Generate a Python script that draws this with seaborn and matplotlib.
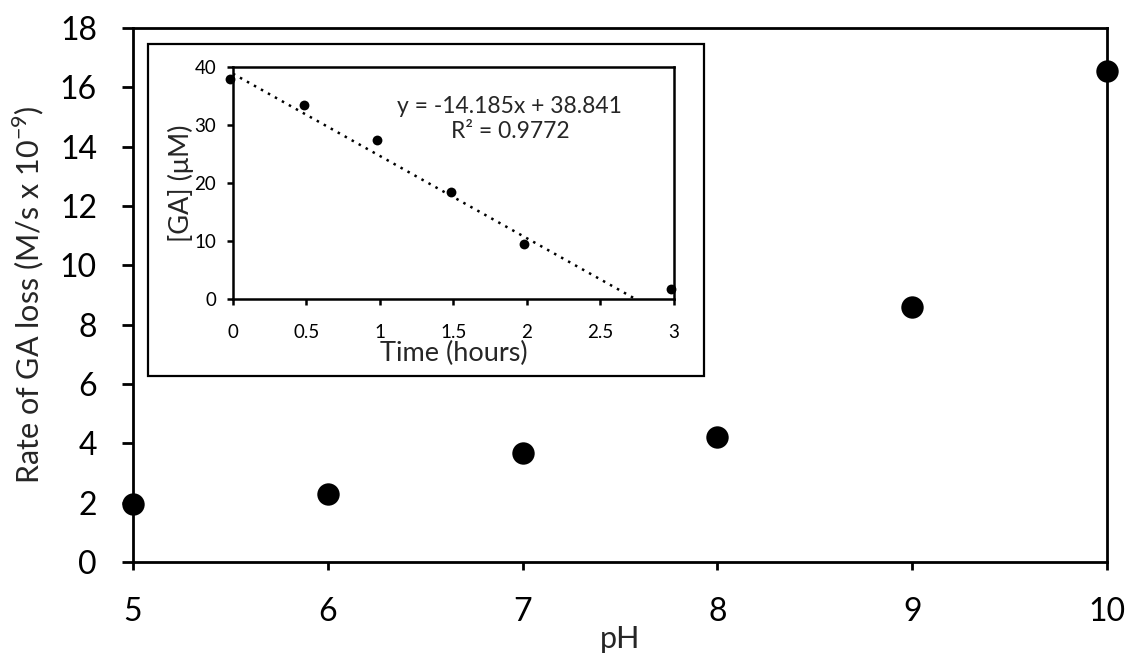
import matplotlib
matplotlib.use("Agg")
import matplotlib.pyplot as plt
import matplotlib.patches as mpatches
import matplotlib.ticker as mticker
import numpy as np
import pandas as pd
import seaborn as sns

# ---- data ----
ph = [5, 6, 7, 8, 9, 10]
rate = [1.95, 2.28, 3.68, 4.22, 8.6, 16.55]

time_h = [-0.02, 0.48, 0.98, 1.48, 1.98, 2.98]
ga_um = [38.0, 33.5, 27.4, 18.5, 9.5, 1.8]

fit_slope = -14.185
fit_intercept = 38.841
fit_r2 = 0.9772

main_xticks = [5, 6, 7, 8, 9, 10]
main_yticks = [0, 2, 4, 6, 8, 10, 12, 14, 16, 18]
inset_xticks = [0, 0.5, 1, 1.5, 2, 2.5, 3]
inset_yticks = [0, 10, 20, 30, 40]

sns.set_style("ticks")
plt.rcParams['font.family'] = ['Lato', 'DejaVu Sans']

fig = plt.figure(figsize=(11.31, 6.55), dpi=100)

# ---- main axes ----
ax = fig.add_axes([0.1176, 0.142, 0.8612, 0.815])
df_main = pd.DataFrame({"pH": ph, "rate": rate})
sns.scatterplot(data=df_main, x="pH", y="rate", ax=ax, s=260, color="black",
                edgecolor="black", linewidth=0, clip_on=False, zorder=5)
ax.set_xlim(5, 10)
ax.set_ylim(0, 18)
ax.set_xticks(main_xticks)
ax.set_yticks(main_yticks)
ax.xaxis.set_major_formatter(mticker.FormatStrFormatter('%d'))
for sp in ax.spines.values():
    sp.set_visible(True)
    sp.set_linewidth(2.0)
    sp.set_color("black")
ax.tick_params(axis='both', direction='out', width=2.0, color='black',
               labelsize=23, labelcolor='black')
ax.tick_params(axis='y', length=8, pad=18)
ax.tick_params(axis='x', length=6, pad=19)
ax.set_xlabel("pH", fontsize=22, labelpad=-1)
ax.set_ylabel("Rate of GA loss (M/s x 10$^{\\mathregular{-9}}$)", fontsize=22, labelpad=10)

# ---- inset frame box ----
rect = mpatches.Rectangle((0.1309, 0.426), 0.4916, 0.5067, transform=fig.transFigure,
                          fill=True, facecolor='white', edgecolor='black',
                          linewidth=1.6, zorder=10)
fig.patches.append(rect)

# ---- inset axes ----
ax2 = fig.add_axes([0.206, 0.5435, 0.3899, 0.3542], zorder=20)
df_in = pd.DataFrame({"t": time_h, "ga": ga_um})
sns.scatterplot(data=df_in, x="t", y="ga", ax=ax2, s=50, color="black",
                edgecolor="black", linewidth=0, clip_on=False, zorder=5)
xf = np.array([0, -fit_intercept / fit_slope])
ax2.plot(xf, fit_slope * xf + fit_intercept, linestyle=(0, (1, 2.2)),
         color="black", linewidth=1.8)
ax2.set_xlim(0, 3)
ax2.set_ylim(0, 40)
ax2.set_xticks(inset_xticks)
ax2.set_yticks(inset_yticks)
ax2.xaxis.set_major_formatter(mticker.FormatStrFormatter('%g'))
for sp in ax2.spines.values():
    sp.set_visible(True)
    sp.set_linewidth(1.8)
    sp.set_color("black")
ax2.tick_params(axis='both', direction='out', width=1.8, length=4,
                labelsize=13.5, labelcolor='black', color='black')
ax2.tick_params(axis='x', pad=14)
ax2.tick_params(axis='y', pad=8)
ax2.set_xlabel("Time (hours)", fontsize=19.5, labelpad=0)
ax2.set_ylabel("[GA] (μM)", fontsize=19.5, labelpad=0)
ax2.text(0.628, 0.776,
         f"y = {fit_slope}x + {fit_intercept}\nR² = {fit_r2}",
         transform=ax2.transAxes, ha='center', va='center', fontsize=16.5,
         linespacing=1.2)

fig.savefig("out.png", dpi=100)
